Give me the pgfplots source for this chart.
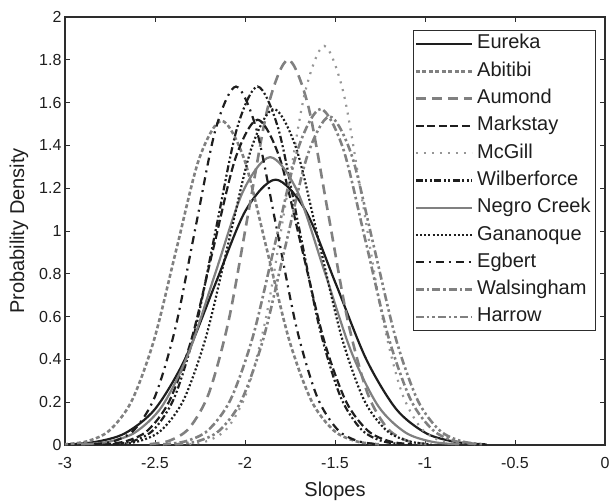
\documentclass[border=0pt]{standalone}
\usepackage{pgfplots}
\pgfplotsset{compat=1.18}
\usepackage{fontspec}
\setmainfont{Liberation Sans}
\usetikzlibrary{calc}
\definecolor{dk}{RGB}{30,30,30}
\definecolor{gr}{RGB}{128,128,128}
\definecolor{lgr}{RGB}{150,150,150}
\definecolor{ax}{RGB}{45,45,45}
\begin{document}
\begin{tikzpicture}
\begin{axis}[
  width=540pt, height=428pt, scale only axis,
  xmin=-3, xmax=0, ymin=0, ymax=2,
  xtick={-3,-2.5,-2,-1.5,-1,-0.5,0},
  ytick={0,0.2,0.4,0.6,0.8,1,1.2,1.4,1.6,1.8,2},
  tick align=inside, tick pos=both,
  major tick length=5pt,
  axis line style={ax, line width=1.2pt},
  every tick/.style={ax, line width=0.9pt},
  tick label style={font=\fontsize{16}{18}\selectfont, text=dk},
  xticklabel style={yshift=-9pt},
  /pgf/number format/assume math mode=true,
  label style={font=\fontsize{20}{24}\selectfont, text=dk},
  xlabel={Slopes}, ylabel={Probability Density},
  xlabel style={yshift=-6pt},
  ylabel style={yshift=4pt},
  legend image code/.code={\draw[#1] (0pt,0pt) -- (56pt,0pt);},
  legend cell align=left,
  legend style={at={(1,1)}, anchor=north east, xshift=-9pt, yshift=-13pt,
    draw=ax, line width=0.9pt, font=\fontsize{20}{22}\selectfont, text=dk,
    inner xsep=1pt, inner ysep=3pt, row sep=6.3pt,
    nodes={inner ysep=1.5pt, inner xsep=4pt, text height=14pt, text depth=4pt}},
  every axis plot/.append style={smooth},
]
% Eureka
\addplot[dk, line width=2.2pt, solid] coordinates {
(-3.00,0.0027)(-2.835,0.0138)(-2.6675,0.0544)(-2.50,0.1678)(-2.3325,0.4026)(-2.165,0.7521)(-1.9975,1.0943)(-1.83,1.24)
(-1.6625,1.0943)(-1.495,0.7521)(-1.3275,0.4026)(-1.16,0.1678)(-0.9925,0.0544)(-0.825,0.0138)(-0.6575,0.0027)};
\addlegendentry{Eureka}
% Abitibi
\addplot[gr, line width=2.6pt, dash pattern=on 4pt off 2.5pt] coordinates {
(-3.005,0.0033)(-2.88,0.0168)(-2.755,0.0665)(-2.63,0.2050)(-2.505,0.4919)(-2.38,0.9188)(-2.255,1.3370)(-2.13,1.515)
(-2.005,1.3370)(-1.88,0.9188)(-1.755,0.4919)(-1.63,0.2050)(-1.505,0.0665)(-1.38,0.0168)(-1.255,0.0033)};
\addlegendentry{Abitibi}
% Aumond
\addplot[gr, line width=2.6pt, dash pattern=on 10pt off 6pt] coordinates {
(-2.53,0.0040)(-2.42,0.0200)(-2.31,0.0790)(-2.20,0.2435)(-2.09,0.5845)(-1.98,1.0917)(-1.87,1.5885)(-1.76,1.80)
(-1.65,1.5885)(-1.54,1.0917)(-1.43,0.5845)(-1.32,0.2435)(-1.21,0.0790)(-1.10,0.0200)(-0.99,0.0040)};
\addlegendentry{Aumond}
% Markstay
\addplot[dk, line width=2.2pt, dash pattern=on 8pt off 3.5pt] coordinates {
(-2.7875,0.0033)(-2.665,0.0169)(-2.5425,0.0667)(-2.42,0.2057)(-2.2975,0.4935)(-2.175,0.9219)(-2.0525,1.3414)(-1.93,1.52)
(-1.8075,1.3414)(-1.685,0.9219)(-1.5625,0.4935)(-1.44,0.2057)(-1.3175,0.0667)(-1.195,0.0169)(-1.0725,0.0033)};
\addlegendentry{Markstay}
% McGill
\addplot[lgr, line width=2.2pt, dash pattern=on 2pt off 6pt] coordinates {
(-2.309,0.0041)(-2.202,0.0207)(-2.095,0.0819)(-1.988,0.2523)(-1.881,0.6056)(-1.774,1.1311)(-1.667,1.6458)(-1.56,1.865)
(-1.453,1.6458)(-1.346,1.1311)(-1.239,0.6056)(-1.132,0.2523)(-1.025,0.0819)(-0.918,0.0207)(-0.811,0.0041)};
\addlegendentry{McGill}
% Wilberforce
\addplot[dk, line width=2.2pt, dash pattern=on 7pt off 2.5pt on 2pt off 2.5pt on 2pt off 2.5pt] coordinates {
(-2.735,0.0037)(-2.62,0.0186)(-2.505,0.0735)(-2.39,0.2266)(-2.275,0.5439)(-2.16,1.0159)(-2.045,1.4782)(-1.93,1.675)
(-1.815,1.4782)(-1.70,1.0159)(-1.585,0.5439)(-1.47,0.2266)(-1.355,0.0735)(-1.24,0.0186)(-1.125,0.0037)};
\addlegendentry{Wilberforce}
% Negro Creek
\addplot[gr, line width=2.2pt, solid] coordinates {
(-2.91,0.0030)(-2.76,0.0149)(-2.61,0.0590)(-2.46,0.1820)(-2.31,0.4367)(-2.16,0.8157)(-2.01,1.1870)(-1.86,1.345)
(-1.71,1.1870)(-1.56,0.8157)(-1.41,0.4367)(-1.26,0.1820)(-1.11,0.0590)(-0.96,0.0149)(-0.81,0.0030)};
\addlegendentry{Negro Creek}
% Gananoque
\addplot[dk, line width=2.2pt, dash pattern=on 2pt off 2.2pt] coordinates {
(-2.715,0.0035)(-2.59,0.0174)(-2.465,0.0689)(-2.34,0.2124)(-2.215,0.5098)(-2.09,0.9522)(-1.965,1.3855)(-1.84,1.57)
(-1.715,1.3855)(-1.59,0.9522)(-1.465,0.5098)(-1.34,0.2124)(-1.215,0.0689)(-1.09,0.0174)(-0.965,0.0035)};
\addlegendentry{Gananoque}
% Egbert
\addplot[dk, line width=2.2pt, dash pattern=on 8pt off 5pt on 2pt off 5pt] coordinates {
(-2.8375,0.0037)(-2.725,0.0186)(-2.6125,0.0735)(-2.50,0.2266)(-2.3875,0.5439)(-2.275,1.0159)(-2.1625,1.4782)(-2.05,1.675)
(-1.9375,1.4782)(-1.825,1.0159)(-1.7125,0.5439)(-1.60,0.2266)(-1.4875,0.0735)(-1.375,0.0186)(-1.2625,0.0037)};
\addlegendentry{Egbert}
% Walsingham
\addplot[gr, line width=2.6pt, dash pattern=on 8pt off 3pt on 2.5pt off 3pt] coordinates {
(-2.455,0.0035)(-2.33,0.0174)(-2.205,0.0689)(-2.08,0.2124)(-1.955,0.5098)(-1.83,0.9522)(-1.705,1.3855)(-1.58,1.57)
(-1.455,1.3855)(-1.33,0.9522)(-1.205,0.5098)(-1.08,0.2124)(-0.955,0.0689)(-0.83,0.0174)(-0.705,0.0035)};
\addlegendentry{Walsingham}
% Harrow
\addplot[gr, line width=2.6pt, dash pattern=on 8pt off 3pt on 2.5pt off 3pt on 2.5pt off 3pt] coordinates {
(-2.3875,0.0034)(-2.265,0.0170)(-2.1425,0.0674)(-2.02,0.2077)(-1.8975,0.4984)(-1.775,0.9310)(-1.6525,1.3546)(-1.53,1.535)
(-1.4075,1.3546)(-1.285,0.9310)(-1.1625,0.4984)(-1.04,0.2077)(-0.9175,0.0674)(-0.795,0.0170)(-0.6725,0.0034)};
\addlegendentry{Harrow}
\end{axis}
\pgfresetboundingbox
\path ($(current axis.south west)+(-65pt,-55pt)$) rectangle ($(current axis.north east)+(4pt,17pt)$);
\end{tikzpicture}
\end{document}
